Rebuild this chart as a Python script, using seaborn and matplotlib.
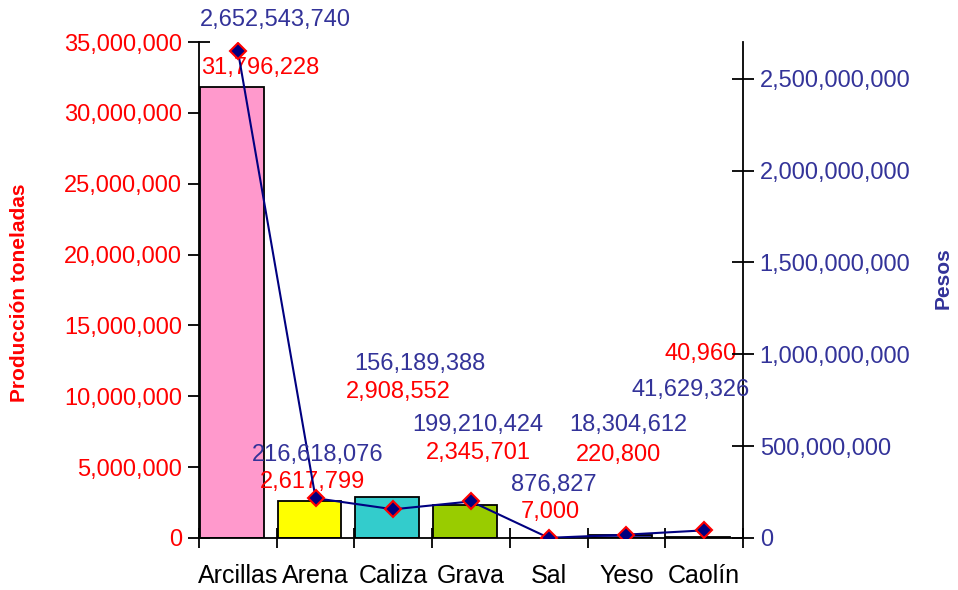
import numpy as np
import pandas as pd
import matplotlib
matplotlib.use("Agg")
import matplotlib.pyplot as plt
from matplotlib.ticker import FuncFormatter, FixedLocator
import seaborn as sns

categories = ["Arcillas", "Arena", "Caliza", "Grava", "Sal", "Yeso", "Caolín"]
produccion = [31796228, 2617799, 2908552, 2345701, 7000, 220800, 40960]
pesos = [2652543740, 216618076, 156189388, 199210424, 876827, 18304612, 41629326]
bar_colors = ["#FF99CC", "#FFFF00", "#33CCCC", "#99CC00", "#FF6600", "#333399", "#666699"]

# label offsets in pixels (dx, dy) relative to the data point
prod_offsets = [(22, 19), (-3, 19), (5, 105), (7, 52), (2, 26), (-8, 80), (-4, 183)]
pesos_offsets = [(38, 31), (2, 43), (27, 145), (7, 76), (5, 53), (2, 110), (-14, 140)]

sns.set_style("white")
plt.rcParams["font.family"] = ["Liberation Sans", "DejaVu Sans"]

RED = "#FF0000"
BLUE = "#333399"
NAVY = "#000080"
FS = 17

fig = plt.figure(figsize=(9.58, 5.90), dpi=100)
ax = fig.add_axes([199/958, 1-538/590, (743-199)/958, (538-42)/590])

df = pd.DataFrame({"cat": categories, "prod": produccion})
sns.barplot(data=df, x="cat", y="prod", hue="cat", palette=bar_colors, legend=False,
            width=0.82, edgecolor="black", linewidth=1.3, ax=ax, saturation=1)
for p in ax.patches:
    p.set_x(p.get_x() - 0.077)

ax.set_xlim(-0.5, 6.5)
ax.set_ylim(0, 35e6)
ax.set_yticks(np.arange(0, 35e6 + 1, 5e6))
ax.yaxis.set_major_formatter(FuncFormatter(lambda v, p: f"{v:,.0f}"))
ax.set_xlabel("")
ax.set_ylabel("")

ax2 = ax.twinx()
sns.lineplot(x=np.arange(len(categories)), y=pesos, ax=ax2, color=NAVY, linewidth=1.5,
             marker="D", markersize=8, markerfacecolor=NAVY, markeredgecolor=RED,
             markeredgewidth=1.5)
ax2.set_ylim(0, 2.7e9)
ax2.set_yticks(np.arange(0, 2.5e9 + 1, 5e8))
ax2.yaxis.set_major_formatter(FuncFormatter(lambda v, p: f"{v:,.0f}"))
ax2.set_ylabel("")
ax2.set_xlim(-0.5, 6.5)

# x axis: labels at centers, tick marks at boundaries
ax.set_xticks(range(len(categories)))
ax.set_xticklabels(categories)
ax.xaxis.set_minor_locator(FixedLocator(np.arange(-0.5, 7, 1)))
ax.tick_params(axis="x", which="major", length=0, pad=19, labelsize=18, labelcolor="black")
ax.tick_params(axis="x", which="minor", direction="inout", length=15, width=1.3, color="black", bottom=True)
ax.tick_params(axis="y", direction="inout", length=16, width=1.3, color="black", labelsize=FS,
               labelcolor=RED, pad=4, left=True)
ax2.tick_params(axis="y", direction="inout", length=16, width=1.3, color="black", labelsize=FS,
                labelcolor=BLUE, pad=4, right=True)

for a in (ax, ax2):
    a.spines["top"].set_visible(False)
    for s in ("left", "right", "bottom"):
        a.spines[s].set_color("black")
        a.spines[s].set_linewidth(1.3)
ax.spines["right"].set_visible(False)
ax2.spines["left"].set_visible(False)
ax2.spines["bottom"].set_visible(False)
ax.grid(False)
ax2.grid(False)

for i, v in enumerate(produccion):
    ax.annotate(f"{v:,}", (i, v), xytext=prod_offsets[i], textcoords="offset pixels",
                ha="center", va="center", color=RED, fontsize=FS)
for i, v in enumerate(pesos):
    ax2.annotate(f"{v:,}", (i, v), xytext=pesos_offsets[i], textcoords="offset pixels",
                 ha="center", va="center", color=BLUE, fontsize=FS)

fig.text(20/958, 1-293/590, "Producción toneladas", rotation=90, ha="center", va="center",
         color=RED, fontsize=15, fontweight="bold")
fig.text(943/958, 1-278/590, "Pesos", rotation=90, ha="center", va="center",
         color=BLUE, fontsize=15, fontweight="bold")

fig.savefig("out.png", dpi=100, facecolor="white")
